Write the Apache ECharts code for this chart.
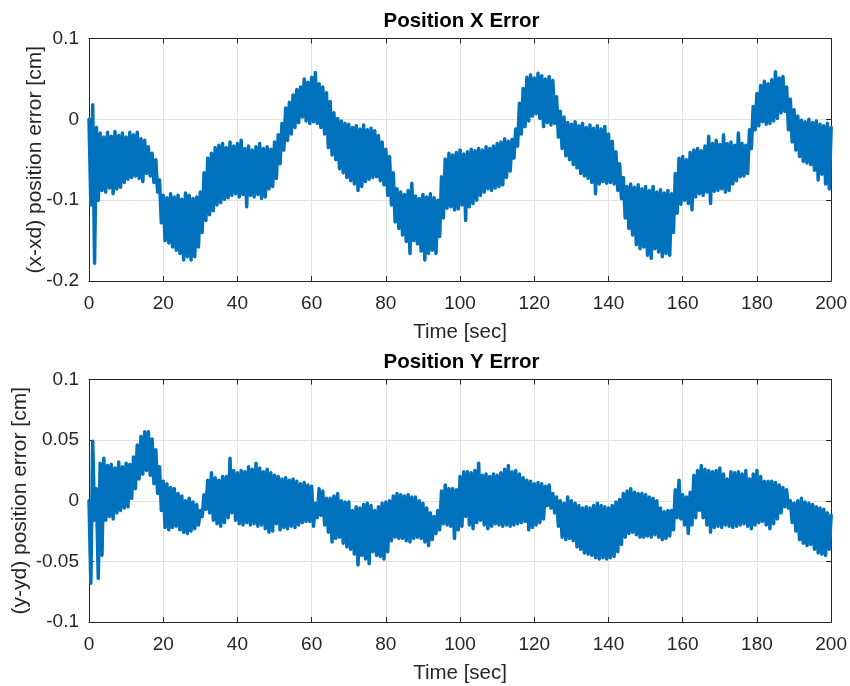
<!DOCTYPE html>
<html>
<head>
<meta charset="utf-8">
<script src="https://cdn.jsdelivr.net/npm/echarts@6/dist/echarts.min.js"></script>
<style>
  html, body { margin: 0; padding: 0; background: #fff; }
  #chart { width: 850px; height: 686px; }
</style>
</head>
<body>
<div id="chart"></div>
<script>
// Position X error [cm]: per-second envelope of the trace.
// xErrHigh[i] is the upper value at t = i s, xErrLow[i] the lower value at t = i + 0.5 s.
const xErrHigh = [
  0.000, 0.018, -0.010, -0.017, -0.022, -0.016, -0.021, -0.015, -0.020, -0.017,
  -0.022, -0.016, -0.019, -0.016, -0.024, -0.026, -0.034, -0.042, -0.050, -0.075,
  -0.094, -0.097, -0.092, -0.096, -0.094, -0.099, -0.091, -0.094, -0.098, -0.096,
  -0.090, -0.066, -0.048, -0.042, -0.035, -0.032, -0.030, -0.035, -0.028, -0.033,
  -0.030, -0.026, -0.036, -0.033, -0.038, -0.034, -0.030, -0.036, -0.034, -0.037,
  -0.028, -0.019, -0.005, 0.014, 0.021, 0.030, 0.037, 0.040, 0.050, 0.046,
  0.052, 0.058, 0.044, 0.040, 0.033, 0.022, 0.008, 0.001, -0.002, -0.005,
  -0.006, -0.010, -0.008, -0.012, -0.007, -0.013, -0.011, -0.014, -0.020, -0.028,
  -0.037, -0.046, -0.066, -0.086, -0.090, -0.093, -0.088, -0.079, -0.095, -0.098,
  -0.093, -0.096, -0.092, -0.097, -0.100, -0.071, -0.049, -0.042, -0.044, -0.041,
  -0.038, -0.043, -0.040, -0.037, -0.039, -0.036, -0.038, -0.034, -0.036, -0.033,
  -0.030, -0.028, -0.024, -0.027, -0.025, -0.012, 0.020, 0.038, 0.052, 0.055,
  0.051, 0.057, 0.054, 0.050, 0.053, 0.048, 0.028, 0.010, 0.003, -0.004,
  -0.006, -0.003, -0.008, -0.005, -0.010, -0.007, -0.011, -0.008, -0.012, -0.009,
  -0.018, -0.027, -0.040, -0.055, -0.072, -0.083, -0.080, -0.084, -0.081, -0.086,
  -0.083, -0.088, -0.083, -0.090, -0.087, -0.091, -0.088, -0.092, -0.067, -0.048,
  -0.046, -0.050, -0.041, -0.038, -0.036, -0.039, -0.033, -0.021, -0.030, -0.026,
  -0.031, -0.019, -0.030, -0.028, -0.032, -0.017, -0.030, -0.032, -0.013, 0.016,
  0.032, 0.042, 0.047, 0.044, 0.049, 0.059, 0.051, 0.053, 0.040, 0.025,
  0.012, 0.004, -0.001, -0.003, 0.000, -0.004, -0.002, -0.006, -0.008, -0.005,
  -0.010
];
const xErrLow = [
  -0.106, -0.178, -0.100, -0.088, -0.090, -0.085, -0.092, -0.086, -0.084, -0.078,
  -0.074, -0.072, -0.070, -0.073, -0.077, -0.067, -0.070, -0.078, -0.090, -0.128,
  -0.150, -0.153, -0.158, -0.162, -0.166, -0.174, -0.170, -0.174, -0.170, -0.158,
  -0.140, -0.125, -0.118, -0.113, -0.106, -0.103, -0.099, -0.097, -0.094, -0.092,
  -0.096, -0.093, -0.108, -0.094, -0.096, -0.093, -0.098, -0.096, -0.086, -0.083,
  -0.073, -0.055, -0.038, -0.026, -0.018, -0.010, -0.004, 0.003, -0.002, -0.005,
  -0.003, -0.005, -0.010, -0.018, -0.035, -0.044, -0.050, -0.061, -0.066, -0.072,
  -0.076, -0.080, -0.088, -0.083, -0.077, -0.074, -0.072, -0.071, -0.076, -0.081,
  -0.094, -0.106, -0.127, -0.135, -0.143, -0.151, -0.166, -0.150, -0.154, -0.163,
  -0.174, -0.166, -0.162, -0.166, -0.145, -0.122, -0.110, -0.108, -0.112, -0.111,
  -0.106, -0.125, -0.108, -0.104, -0.100, -0.094, -0.090, -0.086, -0.088, -0.085,
  -0.083, -0.081, -0.072, -0.064, -0.048, -0.033, -0.018, -0.009, -0.002, 0.004,
  0.007, 0.001, -0.009, -0.004, -0.007, -0.005, -0.022, -0.036, -0.045, -0.050,
  -0.056, -0.060, -0.067, -0.070, -0.073, -0.078, -0.092, -0.080, -0.077, -0.079,
  -0.078, -0.080, -0.088, -0.098, -0.122, -0.135, -0.143, -0.155, -0.160, -0.158,
  -0.168, -0.172, -0.160, -0.164, -0.170, -0.166, -0.168, -0.140, -0.116, -0.105,
  -0.100, -0.104, -0.112, -0.096, -0.092, -0.094, -0.090, -0.104, -0.089, -0.088,
  -0.086, -0.090, -0.088, -0.080, -0.076, -0.071, -0.070, -0.067, -0.036, -0.013,
  -0.008, -0.003, -0.006, -0.005, -0.002, 0.001, 0.008, 0.010, -0.013, -0.028,
  -0.038, -0.046, -0.052, -0.054, -0.056, -0.063, -0.075, -0.068, -0.080, -0.086
];

// Position Y error [cm], same layout as above.
const yErrHigh = [
  0.000, 0.049, 0.010, 0.031, 0.035, 0.029, 0.030, 0.027, 0.032, 0.028,
  0.031, 0.030, 0.036, 0.046, 0.053, 0.057, 0.057, 0.051, 0.042, 0.028,
  0.016, 0.014, 0.011, 0.010, 0.006, 0.004, 0.000, 0.002, -0.001, -0.003,
  -0.008, 0.005, 0.017, 0.023, 0.019, 0.017, 0.020, 0.020, 0.035, 0.025,
  0.023, 0.025, 0.024, 0.028, 0.026, 0.031, 0.027, 0.024, 0.026, 0.023,
  0.021, 0.020, 0.018, 0.019, 0.017, 0.018, 0.016, 0.014, 0.015, 0.013,
  0.012, -0.002, 0.010, 0.008, 0.002, 0.002, 0.004, 0.006, 0.000, -0.001,
  -0.001, -0.008, -0.005, -0.006, -0.003, -0.002, -0.004, -0.008, -0.005, -0.002,
  -0.001, 0.000, 0.004, 0.006, 0.005, 0.004, 0.005, 0.003, 0.003, 0.000,
  -0.002, -0.006, -0.010, -0.013, -0.008, 0.008, 0.013, 0.010, 0.010, 0.009,
  0.020, 0.024, 0.024, 0.023, 0.025, 0.031, 0.021, 0.022, 0.020, 0.022,
  0.021, 0.023, 0.026, 0.029, 0.024, 0.025, 0.022, 0.019, 0.017, 0.016,
  0.014, 0.015, 0.014, 0.012, 0.013, 0.006, 0.003, 0.000, -0.002, 0.003,
  0.000, -0.002, -0.004, -0.006, -0.005, -0.006, -0.004, -0.002, -0.004, -0.005,
  -0.006, -0.004, -0.001, 0.001, 0.006, 0.008, 0.010, 0.007, 0.006, 0.006,
  0.005, 0.003, 0.002, 0.000, -0.006, -0.009, -0.008, -0.008, 0.009, 0.017,
  0.005, 0.003, 0.007, 0.021, 0.025, 0.029, 0.026, 0.025, 0.024, 0.025,
  0.027, 0.022, 0.018, 0.024, 0.023, 0.024, 0.022, 0.025, 0.018, 0.022,
  0.025, 0.020, 0.016, 0.016, 0.016, 0.015, 0.013, 0.011, 0.009, 0.000,
  -0.002, 0.000, 0.002, -0.001, -0.002, -0.003, -0.005, -0.006, -0.007, -0.010,
  -0.012
];
const yErrLow = [
  -0.068, -0.016, -0.064, -0.045, -0.016, -0.013, -0.015, -0.010, -0.008, -0.006,
  -0.005, 0.002, 0.010, 0.018, 0.022, 0.025, 0.021, 0.014, 0.006, -0.008,
  -0.022, -0.024, -0.022, -0.021, -0.024, -0.026, -0.027, -0.025, -0.023, -0.020,
  -0.013, -0.007, -0.010, -0.016, -0.019, -0.021, -0.018, -0.014, -0.010, -0.016,
  -0.019, -0.020, -0.018, -0.020, -0.019, -0.021, -0.020, -0.023, -0.026, -0.025,
  -0.019, -0.024, -0.022, -0.023, -0.021, -0.022, -0.020, -0.018, -0.017, -0.017,
  -0.021, -0.014, -0.012, -0.020, -0.026, -0.034, -0.031, -0.030, -0.035, -0.038,
  -0.040, -0.044, -0.053, -0.045, -0.048, -0.052, -0.042, -0.045, -0.046, -0.048,
  -0.042, -0.033, -0.030, -0.031, -0.031, -0.033, -0.034, -0.031, -0.030, -0.031,
  -0.034, -0.037, -0.032, -0.027, -0.024, -0.019, -0.020, -0.021, -0.031, -0.024,
  -0.021, -0.013, -0.020, -0.023, -0.018, -0.016, -0.020, -0.023, -0.021, -0.019,
  -0.020, -0.021, -0.020, -0.021, -0.020, -0.019, -0.018, -0.017, -0.024, -0.022,
  -0.020, -0.018, -0.015, -0.004, -0.006, -0.010, -0.021, -0.030, -0.032, -0.031,
  -0.033, -0.038, -0.040, -0.043, -0.044, -0.045, -0.047, -0.048, -0.047, -0.048,
  -0.047, -0.046, -0.042, -0.036, -0.030, -0.027, -0.026, -0.028, -0.030, -0.030,
  -0.029, -0.030, -0.028, -0.030, -0.032, -0.031, -0.029, -0.024, -0.014, -0.015,
  -0.020, -0.027, -0.020, -0.014, -0.008, -0.014, -0.020, -0.026, -0.022, -0.021,
  -0.022, -0.020, -0.021, -0.022, -0.021, -0.020, -0.019, -0.021, -0.023, -0.020,
  -0.018, -0.017, -0.020, -0.023, -0.019, -0.015, -0.010, -0.005, -0.006, -0.018,
  -0.025, -0.032, -0.035, -0.037, -0.036, -0.040, -0.043, -0.044, -0.045, -0.040
];

// Axis ranges and ticks
const timeRange = [0, 200];
const timeStep = 20;
const xErrRange = [-0.2, 0.1];
const xErrStep = 0.1;
const yErrRange = [-0.1, 0.1];
const yErrStep = 0.05;

const titles = ['Position X Error', 'Position Y Error'];
const yNames = ['(x-xd) position error [cm]', '(y-yd) position error [cm]'];
const xName = 'Time [sec]';

// Interleave upper (t = i) and lower (t = i + 0.5) samples into one trace.
function trace(high, low) {
  const pts = [];
  for (let i = 0; i < high.length; i++) {
    pts.push([i, high[i]]);
    if (i < low.length) pts.push([i + 0.5, low[i]]);
  }
  return pts;
}

const FONT = "'Liberation Sans', Arial, Helvetica, sans-serif";
const INK = '#262626';
const LINE = '#0072BD';
const GRIDC = '#e1e1e1';

const grids = [
  { left: 89, right: 16, top: 38.5, height: 242.5 },
  { left: 89, right: 16, top: 379.5, height: 242.5 }
];

function fmt(v) { return String(Math.round(v * 1000) / 1000); }

function mainX(gi) {
  return {
    type: 'value', gridIndex: gi, min: timeRange[0], max: timeRange[1], interval: timeStep,
    name: xName, nameLocation: 'middle', nameGap: 41, nameMoveOverlap: false,
    nameTextStyle: { fontFamily: FONT, fontSize: 20.5, color: INK },
    axisLine: { show: true, onZero: false, lineStyle: { color: INK, width: 1 } },
    axisTick: { show: true, inside: true, length: 5, lineStyle: { color: INK } },
    axisLabel: { fontFamily: FONT, fontSize: 19, color: INK, margin: 13, formatter: fmt },
    splitLine: { show: true, lineStyle: { color: GRIDC, width: 1 } }
  };
}
function mainY(gi, range, step, name, gap) {
  return {
    type: 'value', gridIndex: gi, min: range[0], max: range[1], interval: step,
    name: name, nameLocation: 'middle', nameGap: gap, nameMoveOverlap: false,
    nameTextStyle: { fontFamily: FONT, fontSize: 21, color: INK },
    axisLine: { show: true, onZero: false, lineStyle: { color: INK, width: 1 } },
    axisTick: { show: true, inside: true, length: 5, lineStyle: { color: INK } },
    axisLabel: { fontFamily: FONT, fontSize: 19, color: INK, margin: 10, formatter: fmt },
    splitLine: { show: true, lineStyle: { color: GRIDC, width: 1 } }
  };
}
// Box edges (top / right) with inward ticks, no labels
function boxX(gi) {
  return {
    type: 'value', gridIndex: gi, position: 'top', min: timeRange[0], max: timeRange[1], interval: timeStep,
    axisLine: { show: true, onZero: false, lineStyle: { color: INK, width: 1 } },
    axisTick: { show: true, inside: true, length: 5, lineStyle: { color: INK } },
    axisLabel: { show: false }, splitLine: { show: false }
  };
}
function boxY(gi, range, step) {
  return {
    type: 'value', gridIndex: gi, position: 'right', min: range[0], max: range[1], interval: step,
    axisLine: { show: true, onZero: false, lineStyle: { color: INK, width: 1 } },
    axisTick: { show: true, inside: true, length: 5, lineStyle: { color: INK } },
    axisLabel: { show: false }, splitLine: { show: false }
  };
}

function titleText(text, cy) {
  return {
    type: 'text', x: 461.5, y: cy, z: 10,
    style: {
      text: text, fontFamily: FONT, fontSize: 20.5, fontWeight: 'bold', fill: '#000',
      align: 'center', verticalAlign: 'middle', textAlign: 'center', textVerticalAlign: 'middle'
    }
  };
}

function errSeries(idx, high, low) {
  return {
    type: 'line', xAxisIndex: idx, yAxisIndex: idx, data: trace(high, low),
    showSymbol: false, sampling: null, silent: true,
    lineStyle: { color: LINE, width: 3.5, join: 'round', cap: 'round' },
    itemStyle: { color: LINE }
  };
}

const chart = echarts.init(document.getElementById('chart'), null, { renderer: 'canvas' });
chart.setOption({
  animation: false,
  backgroundColor: '#ffffff',
  grid: grids,
  xAxis: [mainX(0), mainX(1), boxX(0), boxX(1)],
  yAxis: [
    mainY(0, xErrRange, xErrStep, yNames[0], 43),
    mainY(1, yErrRange, yErrStep, yNames[1], 58),
    boxY(0, xErrRange, xErrStep),
    boxY(1, yErrRange, yErrStep)
  ],
  graphic: [titleText(titles[0], 21), titleText(titles[1], 362)],
  series: [errSeries(0, xErrHigh, xErrLow), errSeries(1, yErrHigh, yErrLow)]
});
</script>
</body>
</html>
